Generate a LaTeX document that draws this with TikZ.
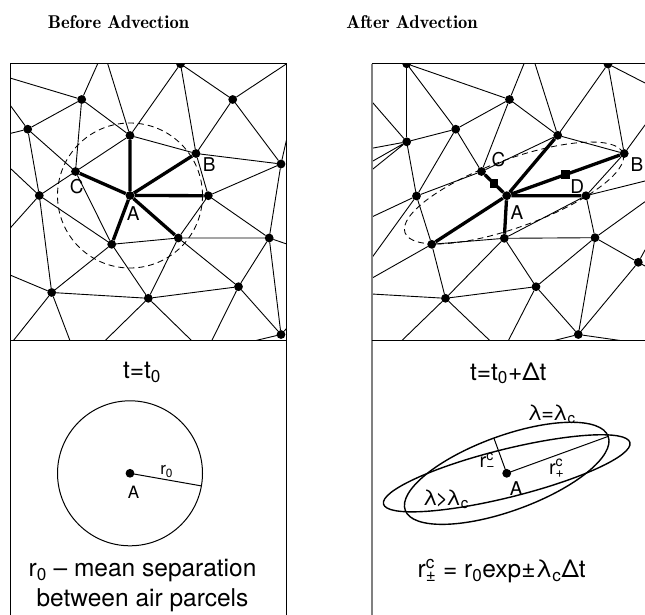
\documentclass[tikz,border=0pt]{standalone}
\usepackage{fontspec}
\newfontfamily\hv{TeX Gyre Heros}
\newfontfamily\lmdemi{lmromandemi10-regular.otf}
\usetikzlibrary{calc}
\newcommand\rcs[1]{r\rlap{\textsuperscript{c}}\textsubscript{#1}}
\tikzset{
 mesh/.style={line width=0.9pt, line cap=round},
 bond/.style={line width=3.3pt},
 dot/.style={circle, fill=black, inner sep=0pt, minimum size=8.8pt},
 sq/.style={rectangle, fill=black, inner sep=0pt, minimum size=8.5pt},
 lab/.style={font=\hv\fontsize{19}{19}\selectfont, inner sep=0pt},
 slab/.style={font=\hv\fontsize{17}{17}\selectfont, inner sep=0pt},
 txt/.style={font=\hv\fontsize{24.5}{28}\selectfont, inner sep=0pt, anchor=base},
 gtxt/.style={font=\hv\fontsize{21.5}{24}\selectfont, inner sep=0pt, anchor=base},
 ttl/.style={font=\lmdemi\fontsize{18.5}{22}\selectfont, inner sep=0pt, anchor=base},
 dsh/.style={line width=0.85pt, dash pattern=on 6pt off 4pt},
 frame/.style={line width=1pt},
 curve/.style={line width=1.4pt},
}
\begin{document}
\begin{tikzpicture}[x=1pt,y=-1pt]
\useasboundingbox (0,0) rectangle (645,615);

% titles
\node[ttl] (t1) at (118.5,28.3) {Before Advection};
\node[ttl] (t2) at (412,28.3) {After Advection};

% ---------------- left mesh ----------------
\begin{scope}
\clip (10,63.7) rectangle (286.7,340.7);
\node[dot] (P1) at (180.5,63.8) {};
\node[dot] (P2) at (81.7,99.5) {};
\node[dot] (P3) at (232.7,99.5) {};
\node[dot] (P4) at (27.7,129.2) {};
\node[dot] (P5) at (130,135.5) {};
\node[dot] (B) at (196,153.5) {};
\node[dot] (P7) at (281,164) {};
\node[dot] (C) at (75.5,171.5) {};
\node[dot] (A) at (130,195.5) {};
\node[dot] (P9) at (208.3,195.7) {};
\node[dot] (P10) at (39.3,195.5) {};
\node[dot] (P11) at (111.7,244.3) {};
\node[dot] (P12) at (178.3,238) {};
\node[dot] (P13) at (269.2,238) {};
\node[dot] (P14) at (51.7,292.5) {};
\node[dot] (P15) at (148.3,298.3) {};
\node[dot] (P16) at (238.5,286.7) {};
\node[dot] (P17) at (281,334.5) {};
\coordinate (l1) at (10,78);
\coordinate (l2) at (97.7,63.7);
\coordinate (l3) at (107.7,63.7);
\coordinate (l4) at (10,105);
\coordinate (l5) at (10,133.5);
\coordinate (l6) at (10,168);
\coordinate (l7) at (286.7,63.7);
\coordinate (l8) at (286.7,139);
\coordinate (l9) at (10,228.3);
\coordinate (l10) at (10,275);
\coordinate (l11) at (13.3,340.7);
\coordinate (l12) at (70,340.7);
\coordinate (l13) at (105,340.7);
\coordinate (l14) at (286.7,244);
\coordinate (l15) at (211.7,340.7);
\coordinate (l16) at (191.7,340.7);
\coordinate (l17) at (255,340.7);
\coordinate (l18) at (286.7,328.3);
\draw[mesh] (l1)--(P2) (P2)--(l2) (l3)--(P5) (P2)--(P4) (P2)--(C) (P2)--(P5)
 (l4)--(P4) (l5)--(P4) (P4)--(C) (P4)--(P10) (l6)--(P10) (P10)--(C) (P5)--(C)
 (P5)--(P1) (P5)--(B) (C)--(P11) (l7)--(P3) (P1)--(P3) (P1)--(B) (P3)--(B)
 (P3)--(P7) (B)--(P7) (B)--(P9) (P9)--(P7) (P7)--(l8) (P7)--(P13) (P10)--(l9)
 (P10)--(P14) (P10)--(P11) (P11)--(P12) (P11)--(P14) (P11)--(P15) (l10)--(P14)
 (P14)--(l11) (P14)--(l12) (P14)--(P15) (P15)--(l13) (P9)--(P12) (P9)--(P13)
 (P12)--(P13) (P12)--(P16) (P12)--(P15) (P13)--(l14) (P13)--(P16) (P13)--(P17)
 (P16)--(P15) (P16)--(P17) (P16)--(l15) (P15)--(l16) (P17)--(l17) (P17)--(l18);
\draw[bond] (A)--(P5) (A)--(B) (A)--(P9) (A)--(P12) (A)--(P11) (A)--(C);
\draw[dsh] (A.center) circle[radius=72.5pt];
\end{scope}
\node[lab] (la) at (133.3,213.3) {A};
\node[lab] (lb) at (209.2,164.7) {B};
\node[lab] (lc) at (76.7,186.3) {C};

% frame left
\draw[frame] (10,63.7) -- (286.7,63.7);
\draw[frame] (10,63.7) -- (10,615);
\draw[frame] (286.7,63.7) -- (286.7,615);
\draw[line width=1.3pt] (10,340.7) -- (286.7,340.7);

% ---------------- right mesh ----------------
\begin{scope}
\clip (371.7,63.7) rectangle (645,340.7);
\node[dot] (Q1) at (406.7,63.8) {};
\node[dot] (Q4) at (509.5,99.5) {};
\node[dot] (Q2) at (455.7,129.2) {};
\node[dot] (Q3) at (406.7,141.8) {};
\node[dot] (Q7) at (557.7,135.3) {};
\node[dot] (B2) at (624.2,153.5) {};
\node[dot] (Q5) at (481.5,171.5) {};
\node[dot] (Q6) at (416.5,196) {};
\node[dot] (A2) at (506.7,195.7) {};
\node[dot] (D) at (586,195.7) {};
\node[dot] (Q9) at (431.7,244.3) {};
\node[dot] (Q10) at (504.3,238.3) {};
\node[dot] (Q11) at (595,237.7) {};
\node[dot] (Q12) at (638.3,262.3) {};
\node[dot] (Q13) at (445.5,298.3) {};
\node[dot] (Q14) at (536,286.7) {};
\node[dot] (Q15) at (578.3,334.5) {};
\node[dot] (Q16) at (608,64) {};
\coordinate (r1) at (371.7,101.5);
\coordinate (r2) at (371.7,148.3);
\coordinate (r3) at (371.7,161.7);
\coordinate (r4) at (371.7,170);
\coordinate (r5) at (524,63.7);
\coordinate (r6) at (535,63.7);
\coordinate (r7) at (645,83);
\coordinate (r8) at (645,125);
\coordinate (r9) at (371.7,217);
\coordinate (r10) at (371.7,258);
\coordinate (r11) at (371.7,278.3);
\coordinate (r12) at (371.7,294);
\coordinate (r13) at (645,181);
\coordinate (r14) at (645,201.7);
\coordinate (r15) at (645,250);
\coordinate (r16) at (645,266);
\coordinate (r17) at (401.7,340.7);
\coordinate (r18) at (490,340.7);
\coordinate (r19) at (508.3,340.7);
\coordinate (r20) at (553.3,340.7);
\coordinate (r21) at (621.7,340.7);
\draw[line width=1.5pt] (Q1)--(Q3);
\draw[mesh] (Q1)--(Q4) (Q1)--(Q2) (r1)--(Q3) (r2)--(Q3) (r3)--(Q3) (r4)--(Q3)
 (Q3)--(Q2) (Q3)--(Q6) (Q2)--(Q4) (Q2)--(Q5) (Q2)--(Q6) (Q4)--(Q5) (Q4)--(Q7)
 (r5)--(Q4) (r6)--(Q7) (Q16)--(Q7) (Q16)--(B2) (Q16)--(r7) (B2)--(r8) (Q7)--(B2)
 (Q6)--(Q5) (Q5)--(Q7) (Q6)--(Q9) (r9)--(Q6) (r10)--(Q6) (r11)--(Q9) (r12)--(Q13)
 (Q9)--(Q10) (Q9)--(Q13) (Q10)--(Q13) (Q10)--(Q14) (Q10)--(Q11) (Q10)--(D)
 (D)--(Q11) (D)--(B2) (D)--(r13) (Q11)--(r14) (Q11)--(Q12) (Q11)--(Q14)
 (Q11)--(Q15) (Q12)--(Q15) (Q12)--(r15) (Q12)--(r16) (Q13)--(Q14) (Q14)--(Q15)
 (Q13)--(r17) (Q13)--(r18) (Q14)--(r19) (Q15)--(r20) (Q15)--(r21);
\draw[bond] (A2)--(Q7) (A2)--(B2) (A2)--(D) (A2)--(Q10) (A2)--(Q9) (A2)--(Q5);
\node[sq] (S1) at ($(Q5)!0.5!(A2)$) {};
\node[sq] (S2) at ($(A2)!0.5!(B2)$) {};
\coordinate (E) at (514,193);
\draw[dsh, rotate around={20:(E)}] (E) ellipse[x radius=116pt, y radius=34pt];
\end{scope}
\node[lab] (rc) at (498.5,159.3) {C};
\node[lab] (ra) at (517,212.5) {A};
\node[lab] (rd) at (577.2,186.2) {D};
\node[lab] (rb) at (637,164.7) {B};

% frame right
\draw[frame] (371.7,63.7) -- (645,63.7);
\draw[line width=1.6pt, gray] (371.7,63.7) -- (371.7,615);
\draw[line width=1.3pt] (371.7,340.7) -- (645,340.7);

% ---------------- bottom left ----------------
\node[txt] (tl) at (142,378.3) {t=t\textsubscript{0}};
\node[dot] (AL) at (130,473.3) {};
\draw[line width=1pt] (AL.center) circle[radius=72.5pt];
\coordinate (R0) at (201.4,485.9);
\draw[line width=1pt] (AL.center) -- (R0);
\node[slab] (r0) at (166.7,471.7) {r\textsubscript{0}};
\node[slab] (al) at (133.5,492.5) {A};
\node[txt] (d1) at (142.5,576.7) {r\textsubscript{0} – mean separation};
\node[txt] (d2) at (142.5,606.3) {between air parcels};

% ---------------- bottom right ----------------
\node[txt] (tr) at (508.3,380) {t=t\textsubscript{0}+Δt};
\node[dot] (AR) at (506.7,473.3) {};
\draw[curve, rotate around={20:(AR.center)}] (AR.center) ellipse[x radius=108pt, y radius=37.5pt];
\draw[curve, rotate around={14:(AR.center)}] (AR.center) ellipse[x radius=127pt, y radius=24pt];
\coordinate (Rm) at (493.9,438.1);
\coordinate (Rp) at (608.2,436.4);
\draw[line width=1pt] (AR.center) -- (Rm) (AR.center) -- (Rp);
\node[gtxt] (le) at (551.7,420) {λ\kern-1pt=\kern-1ptλ\textsubscript{c}};
\node[gtxt] (lg) at (445.8,505) {λ\kern-2pt>\kern-2ptλ\textsubscript{c}};
\node[slab, font=\hv\fontsize{20}{20}\selectfont] (rm) at (487.3,461.7) {\rcs{−}};
\node[slab, font=\hv\fontsize{20}{20}\selectfont] (rp) at (556.7,468.3) {\rcs{+}};
\node[lab] (ar) at (516.3,488.3) {A};
\node[txt] (fm) at (501.7,577.3) {\rcs{±} = r\textsubscript{0}exp±λ\textsubscript{c}Δt};
\end{tikzpicture}
\end{document}
